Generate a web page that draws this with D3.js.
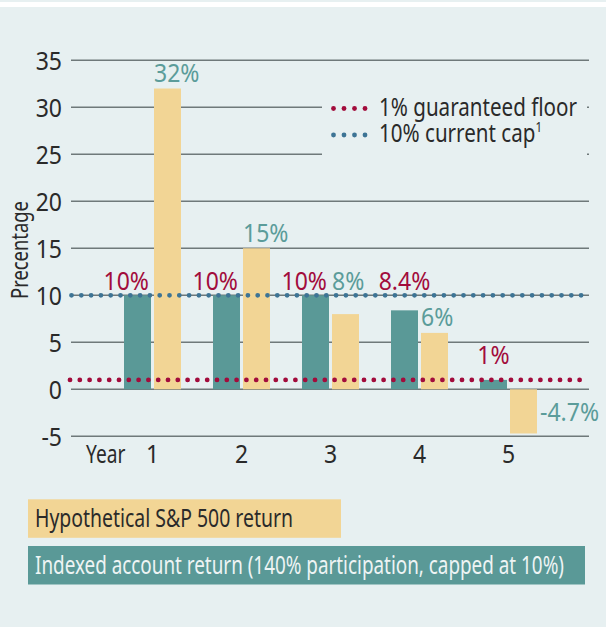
<!DOCTYPE html>
<html>
<head>
<meta charset="utf-8">
<script src="https://cdn.jsdelivr.net/npm/d3@7"></script>
<style>
  html, body { margin: 0; padding: 0; background: #e7f0f1; }
  svg { display: block; }
  text { font-family: "Noto Sans", "Open Sans", "DejaVu Sans", sans-serif; }
</style>
</head>
<body>
<svg id="chart" width="606" height="627"></svg>
<script>
// Hypothetical returns per year
const years = [1, 2, 3, 4, 5];
const spReturn = [32, 15, 8, 6, -4.7];          // Hypothetical S&P 500 return
const indexedReturn = [10, 10, 10, 8.4, 1];     // Indexed account return
const spLabels = ["32%", "15%", "8%", "6%", "-4.7%"];
const indexedLabels = ["10%", "10%", "10%", "8.4%", "1%"];
const yTicks = [-5, 0, 5, 10, 15, 20, 25, 30, 35];
const floorRate = 1;
const capRate = 10;
const refLines = [
  { label: "1% guaranteed floor", value: floorRate, sup: "" },
  { label: "10% current cap", value: capRate, sup: "1" }
];
const legendItems = [
  "Hypothetical S&P 500 return",
  "Indexed account return (140% participation, capped at 10%)"
];

const C = {
  bg: "#e7f0f1",
  grid: "#6f797a",
  teal: "#5a9997",
  yellow: "#f2d595",
  red: "#a20c3c",
  blue: "#3d7495",
  tealText: "#5b9c9a",
  dark: "#2a2a2a",
  light: "#eef4f4"
};

const svg = d3.select("#chart");

// panel + thin white band along the top
svg.append("rect").attr("width", 606).attr("height", 627).attr("fill", C.bg);
svg.append("rect").attr("x", 0).attr("y", 2).attr("width", 606).attr("height", 5).attr("fill", "#ffffff");

const gridX0 = 71, gridX1 = 589;
const y = d3.scaleLinear().domain([-5, 35]).range([436.3, 60.3]);
const x = d3.scaleBand().domain(years).range([108, 553]);
const inner = d3.scaleBand().domain(["indexed", "sp"]).range([16, 73]).paddingInner(0.1);

// gridlines
svg.append("g").selectAll("line").data(yTicks).join("line")
  .attr("x1", gridX0).attr("x2", gridX1)
  .attr("y1", d => y(d)).attr("y2", d => y(d))
  .attr("stroke", C.grid).attr("stroke-width", 1.4);

// y axis tick labels (plain hyphen for negatives)
const yAxis = d3.axisLeft(y).tickValues(yTicks).tickSize(0).tickPadding(0)
  .tickFormat(d => (d < 0 ? "-" : "") + Math.abs(d));
const yg = svg.append("g").attr("transform", `translate(62,0)`).call(yAxis);
yg.select(".domain").remove();
yg.selectAll("text")
  .attr("class", "num")
  .attr("font-size", 25).attr("fill", C.dark)
  .attr("font-family", null)
  .attr("dy", "0.35em");

// axis title
svg.append("text").attr("class", "word")
  .attr("transform", "translate(28,250) rotate(-90)")
  .attr("text-anchor", "middle")
  .attr("font-size", 24).attr("fill", C.dark)
  .text("Precentage");

// bars
const rows = years.map((yr, i) => ({ yr, sp: spReturn[i], idx: indexedReturn[i], spLabel: spLabels[i], idxLabel: indexedLabels[i] }));
const bars = svg.append("g");
bars.selectAll("rect.idx").data(rows).join("rect").attr("class", "idx")
  .attr("x", d => x(d.yr) + inner("indexed")).attr("width", inner.bandwidth())
  .attr("y", d => y(Math.max(0, d.idx))).attr("height", d => Math.abs(y(d.idx) - y(0)))
  .attr("fill", C.teal);
bars.selectAll("rect.sp").data(rows).join("rect").attr("class", "sp")
  .attr("x", d => x(d.yr) + inner("sp")).attr("width", inner.bandwidth())
  .attr("y", d => y(Math.max(0, d.sp))).attr("height", d => Math.abs(y(d.sp) - y(0)))
  .attr("fill", C.yellow);

// dotted reference lines (floor and cap)
const dotStyle = sel => sel.attr("stroke-width", 4.8).attr("stroke-linecap", "round").attr("stroke-dasharray", "0 9.8");
svg.append("line").attr("x1", 70).attr("x2", gridX1).attr("y1", y(floorRate)).attr("y2", y(floorRate))
  .attr("stroke", C.red).call(dotStyle);
svg.append("line").attr("x1", 71.5).attr("x2", gridX1).attr("y1", y(capRate)).attr("y2", y(capRate))
  .attr("stroke", C.blue).call(dotStyle);

// value labels
const labelSize = 25, capH = 18;
const lineYs = [y(floorRate), y(capRate)];
const hitsLine = base => lineYs.find(ly => base - capH < ly + 3 && base + 1 > ly - 3);

rows.forEach(d => {
  const bx = x(d.yr);
  // S&P label
  let sx, sy;
  if (d.sp < 0) {
    sx = bx + inner("sp") + inner.bandwidth() + 3;
    sy = y(d.sp) - 12;
  } else {
    sx = bx + inner("sp");
    sy = y(d.sp) - 6.5;
    const ly = hitsLine(sy);
    if (ly !== undefined) sy = ly - 5.5;
  }
  d.spTop = Math.min(y(Math.max(0, d.sp)), sy - capH);
  svg.append("text").attr("class", "num").attr("x", sx).attr("y", sy)
    .attr("font-size", labelSize).attr("fill", C.tealText)
    .text(d.spLabel);

  // indexed account label: sits on the cap line, or clears the floor dots
  let iy;
  if (Math.abs(d.idx - capRate) <= 2) iy = y(capRate) - 5.5;
  else if (Math.abs(d.idx - floorRate) <= 2) iy = y(floorRate) - 16;
  else iy = y(d.idx) - 6;
  const crowded = d.spTop < iy;
  const ix = crowded ? bx + inner("indexed") + inner.bandwidth() - 2 : bx + inner("indexed") + inner.bandwidth() / 2;
  svg.append("text").attr("class", "num").attr("x", ix).attr("y", iy)
    .attr("text-anchor", crowded ? "end" : "middle")
    .attr("font-size", labelSize).attr("fill", C.red)
    .text(d.idxLabel);
});

// x axis labels
const xAxis = d3.axisBottom(x).tickSize(0).tickPadding(0);
const xg = svg.append("g").attr("transform", "translate(0,463)").call(xAxis);
xg.select(".domain").remove();
xg.selectAll("text").attr("class", "num").attr("font-size", 25).attr("fill", C.dark).attr("font-family", null).attr("dy", 0);
svg.append("text").attr("class", "word").attr("x", 86).attr("y", 463).attr("font-size", 25).attr("fill", C.dark).text("Year");

// legend for the reference lines (panel-coloured box hides the gridlines behind it)
svg.append("rect").attr("x", 322).attr("y", 92).attr("width", 265).attr("height", 74).attr("fill", C.bg);
const lg = svg.append("g");
refLines.forEach((r, i) => {
  const cy = 108.5 + i * 26.5;
  const col = r.value === floorRate ? C.red : C.blue;
  lg.selectAll(null).data(d3.range(4)).join("circle")
    .attr("cx", k => 333.5 + k * 10.5).attr("cy", cy).attr("r", 2.4).attr("fill", col);
  const t = lg.append("text").attr("class", "ref-label").attr("x", 379).attr("y", cy + 7)
    .attr("font-size", 25).attr("fill", C.dark).text(r.label);
  if (r.sup) t.append("tspan").attr("font-size", 14).attr("dy", -10).text(r.sup);
});

// series legend boxes
const boxes = [
  { text: legendItems[0], fill: C.yellow, color: C.dark, w: 313, tw: 258 },
  { text: legendItems[1], fill: C.teal, color: C.light, w: 557, tw: 529 }
];
boxes.forEach((b, i) => {
  const top = 499.3 + i * 46.7;
  svg.append("rect").attr("x", 28).attr("y", top).attr("width", b.w).attr("height", 38.5).attr("fill", b.fill);
  svg.append("text").attr("class", "box-label").attr("x", 35).attr("y", top + 28)
    .attr("font-size", 25).attr("fill", b.color).attr("data-tw", b.tw).text(b.text);
});

// Condensed face: squeeze labels horizontally. Box labels fill their set
// widths; the reference-line legend shares the floor label's factor; numbers
// are only lightly narrowed.
const squeeze = (node, k) => {
  const w = node.getComputedTextLength();
  d3.select(node).attr("textLength", w * k).attr("lengthAdjust", "spacingAndGlyphs");
};
let wordK = 0;
svg.selectAll(".box-label").each(function () {
  const k = +this.getAttribute("data-tw") / this.getComputedTextLength();
  wordK += k / 2;
  squeeze(this, k);
});
const floorNode = svg.select(".ref-label").node();
const refK = 198 / floorNode.getComputedTextLength();
svg.selectAll(".ref-label").each(function () { squeeze(this, refK); });
svg.selectAll(".word").each(function () { squeeze(this, wordK); });
svg.selectAll(".num").each(function () { squeeze(this, 0.92); });
</script>
</body>
</html>
